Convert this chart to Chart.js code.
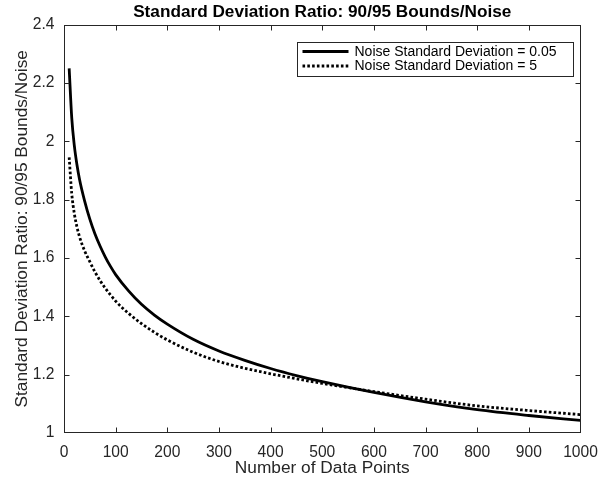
<!DOCTYPE html>
<html>
<head>
<meta charset="utf-8">
<script src="https://cdn.jsdelivr.net/npm/chart.js@4"></script>
<style>
  html, body { margin: 0; padding: 0; background: #fff; }
  canvas { display: block; }
</style>
</head>
<body>
<canvas id="ratioChart" width="600" height="487"></canvas>
<script>
const sampleSizes = [10, 15, 20, 25, 30, 40, 50, 60, 70, 80, 90, 100, 125, 150, 175, 200,
  250, 300, 350, 400, 450, 500, 600, 700, 800, 900, 1000];
const ratioNoise005 = [2.25, 2.08, 1.985, 1.92, 1.87, 1.795, 1.733, 1.682, 1.64, 1.603, 1.571, 1.543,
  1.487, 1.441, 1.404, 1.373, 1.321, 1.281, 1.249, 1.221, 1.197, 1.176, 1.139, 1.107, 1.080, 1.060, 1.043];
const ratioNoise5 = [1.945, 1.82, 1.752, 1.707, 1.673, 1.624, 1.587, 1.552, 1.522, 1.496, 1.473, 1.452,
  1.41, 1.375, 1.345, 1.319, 1.277, 1.245, 1.222, 1.203, 1.186, 1.17, 1.142, 1.116, 1.093, 1.077, 1.063];
const seriesLabels = ["Noise Standard Deviation = 0.05", "Noise Standard Deviation = 5"];

const axisColor = "#262626";
const fontFamily = "'Liberation Sans', Arial, Helvetica, sans-serif";

const toPoints = (ys) => ys.map((v, i) => ({ x: sampleSizes[i], y: v }));

// MATLAB style box: inward ticks on all four sides + legend in the top right
const matlabAxes = {
  id: "matlabAxes",
  afterDraw(chart) {
    const { ctx, chartArea: a, scales: { x, y } } = chart;
    const L = Math.round(a.left) + 0.5, R = Math.round(a.right) - 0.5;
    const T = Math.round(a.top) + 0.5, B = Math.round(a.bottom) - 0.5;
    const tick = 5;
    const clamp = (v, lo, hi) => Math.min(Math.max(v, lo), hi);
    ctx.save();
    ctx.strokeStyle = axisColor;
    ctx.lineWidth = 1;
    ctx.beginPath();
    x.ticks.forEach(t => {
      const px = clamp(Math.round(x.getPixelForValue(t.value)) + 0.5, L, R);
      ctx.moveTo(px, B); ctx.lineTo(px, B - tick);
      ctx.moveTo(px, T); ctx.lineTo(px, T + tick);
    });
    y.ticks.forEach(t => {
      const py = clamp(Math.round(y.getPixelForValue(t.value)) + 0.5, T, B);
      ctx.moveTo(L, py); ctx.lineTo(L + tick, py);
      ctx.moveTo(R, py); ctx.lineTo(R - tick, py);
    });
    ctx.stroke();
    ctx.strokeRect(L, T, R - L, B - T);

    // legend
    const bx = Math.round(a.right - 283.5) + 0.5, by = Math.round(a.top + 17) + 0.5;
    const bw = 276, bh = 34;
    ctx.fillStyle = "#fff";
    ctx.fillRect(bx, by, bw, bh);
    ctx.strokeRect(bx, by, bw, bh);
    ctx.font = "14px " + fontFamily;
    ctx.textBaseline = "middle";
    ctx.textAlign = "left";
    chart.data.datasets.forEach((ds, i) => {
      const ry = by + 9 + i * 14.5;
      ctx.save();
      ctx.strokeStyle = ds.borderColor;
      ctx.lineWidth = ds.borderWidth;
      ctx.lineCap = "butt";
      ctx.setLineDash(ds.borderDash || []);
      ctx.beginPath();
      ctx.moveTo(bx + 5, ry);
      ctx.lineTo(bx + 51, ry);
      ctx.stroke();
      ctx.restore();
      ctx.fillStyle = "#000";
      ctx.fillText(ds.label, bx + 57, ry + 0.5);
    });
    ctx.restore();
  }
};

new Chart(document.getElementById("ratioChart"), {
  type: "line",
  data: {
    datasets: [
      {
        label: seriesLabels[0],
        data: toPoints(ratioNoise005),
        borderColor: "#000",
        borderWidth: 2.8,
        pointRadius: 0,
        cubicInterpolationMode: "monotone",
        fill: false,
      },
      {
        label: seriesLabels[1],
        data: toPoints(ratioNoise5),
        borderColor: "#000",
        borderWidth: 2.8,
        borderDash: [2.6, 2.2],
        borderCapStyle: "butt",
        pointRadius: 0,
        cubicInterpolationMode: "monotone",
        fill: false,
      },
    ],
  },
  options: {
    responsive: false,
    animation: false,
    devicePixelRatio: 1,
    layout: { padding: { left: 0, right: 19.5, top: 0, bottom: 0 } },
    plugins: {
      legend: { display: false },
      tooltip: { enabled: false },
      title: {
        display: true,
        fullSize: false,
        text: "Standard Deviation Ratio: 90/95 Bounds/Noise",
        color: "#000",
        font: { family: fontFamily, size: 17.2, weight: "bold" },
        padding: { top: 1.7, bottom: 2.2 },
      },
    },
    scales: {
      x: {
        type: "linear",
        min: 0,
        max: 1000,
        grid: { display: false, drawTicks: false },
        border: { display: false },
        ticks: {
          stepSize: 100,
          color: axisColor,
          padding: 10,
          maxRotation: 0,
          font: { family: fontFamily, size: 15.6 },
          callback: (v) => String(v),
        },
        title: {
          display: true,
          text: "Number of Data Points",
          color: axisColor,
          font: { family: fontFamily, size: 17.3 },
          padding: { top: 0, bottom: 8.8 },
        },
        afterFit(s) { s.height = 54; s.paddingLeft = 0; s.paddingRight = 0; },
      },
      y: {
        type: "linear",
        min: 1,
        max: 2.4,
        grid: { display: false, drawTicks: false },
        border: { display: false },
        ticks: {
          stepSize: 0.2,
          color: axisColor,
          padding: 9.5,
          font: { family: fontFamily, size: 15.6 },
          callback: (v) => String(parseFloat(v.toFixed(2))),
        },
        title: {
          display: true,
          text: "Standard Deviation Ratio: 90/95 Bounds/Noise",
          color: axisColor,
          font: { family: fontFamily, size: 17.3 },
          padding: { top: 11.6, bottom: 0 },
        },
        afterFit(s) { s.width = 64; s.paddingTop = 0; s.paddingBottom = 0; },
      },
    },
  },
  plugins: [matlabAxes],
});
</script>
</body>
</html>
